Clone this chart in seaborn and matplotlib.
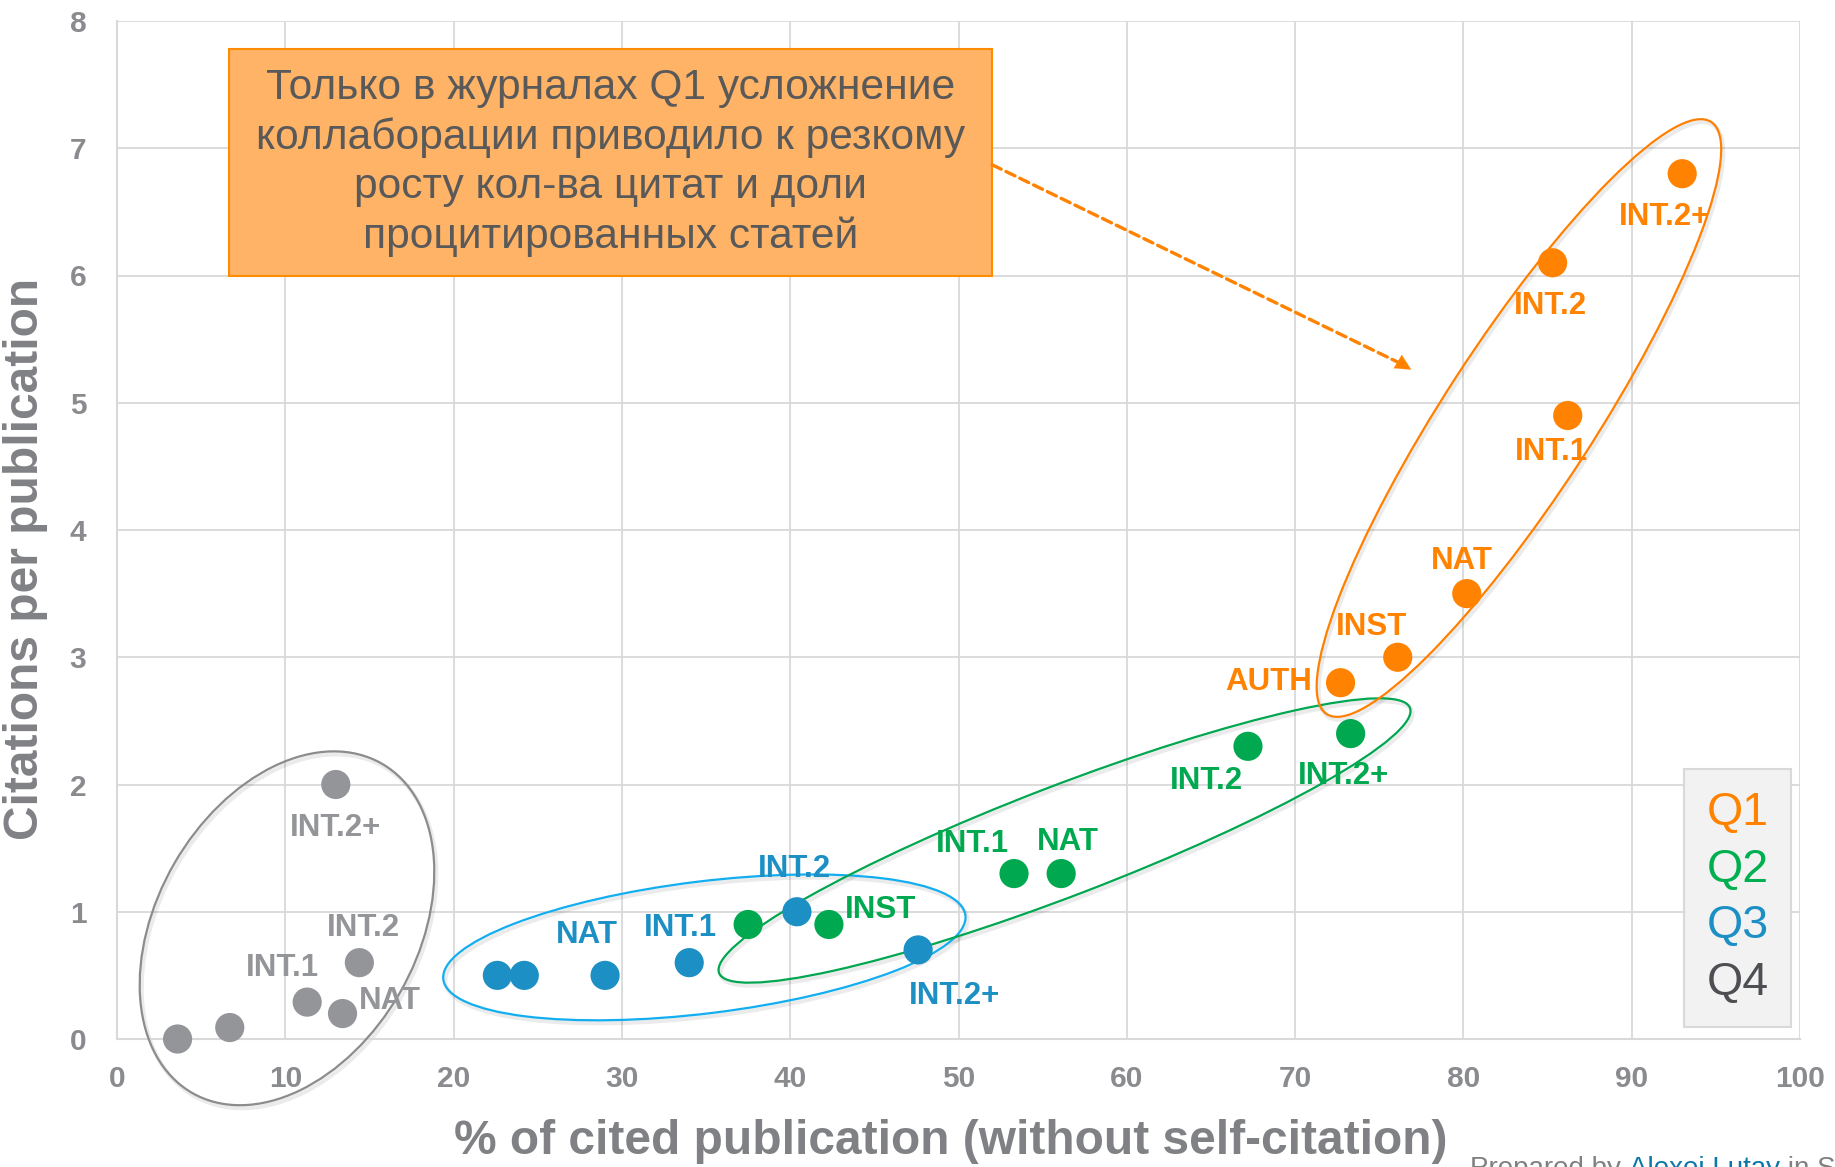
import matplotlib
matplotlib.use("Agg")
import matplotlib.pyplot as plt
import seaborn as sns
import pandas as pd
from matplotlib.patches import Ellipse, Rectangle
from matplotlib.transforms import ScaledTranslation
from matplotlib.lines import Line2D

# ---------------- data ----------------
types = ["AUTH", "INST", "NAT", "INT.1", "INT.2", "INT.2+"]
quartiles = ["Q1", "Q2", "Q3", "Q4"]

q1_x = [72.7, 76.1, 80.2, 86.2, 85.3, 93.0]
q1_y = [2.8, 3.0, 3.5, 4.9, 6.1, 6.8]
q2_x = [37.5, 42.3, 56.1, 53.3, 67.2, 73.3]
q2_y = [0.9, 0.9, 1.3, 1.3, 2.3, 2.4]
q3_x = [22.6, 24.2, 29.0, 34.0, 40.4, 47.6]
q3_y = [0.5, 0.5, 0.5, 0.6, 1.0, 0.7]
q4_x = [3.6, 6.7, 13.4, 11.3, 14.4, 13.0]
q4_y = [0.0, 0.09, 0.2, 0.29, 0.6, 2.0]

q1_labels = ["AUTH", "INST", "NAT", "INT.1", "INT.2", "INT.2+"]
q2_labels = ["", "INST", "NAT", "INT.1", "INT.2", "INT.2+"]
q3_labels = ["", "", "NAT", "INT.1", "INT.2", "INT.2+"]
q4_labels = ["", "", "NAT", "INT.1", "INT.2", "INT.2+"]

x_ticks = [0, 10, 20, 30, 40, 50, 60, 70, 80, 90, 100]
y_ticks = [0, 1, 2, 3, 4, 5, 6, 7, 8]

note_text = ("Только в журналах Q1 усложнение\n"
             "коллаборации приводило к резкому\n"
             "росту кол-ва цитат и доли\n"
             "процитированных статей")

# ---------------- styles ----------------
colors = {"Q1": "#FF8200", "Q2": "#00A94F", "Q3": "#1C90C4", "Q4": "#939598"}
legend_colors = {"Q1": "#FF8200", "Q2": "#00B050", "Q3": "#1C90C4", "Q4": "#4D4F53"}
ellipse_colors = {"Q1": "#FF7F00", "Q2": "#00A650", "Q3": "#12AEEF", "Q4": "#8C8C8C"}

# label offsets in pixels (dx, dy)
offsets = {
    "Q1": [(-72, 1), (-26, 30), (-5, 33), (-16, -37), (-2, -43), (-18, -43)],
    "Q2": [(0, 0), (52, 14), (7, 32), (-42, 30), (-42, -35), (-7, -42)],
    "Q3": [(0, 0), (0, 0), (-18, 40), (-9, 35), (-2, 43), (36, -46)],
    "Q4": [(0, 0), (0, 0), (47, 13), (-25, 34), (4, 35), (0, -43)],
}
# ellipses: center in data coords, semi-axes in pixels, angle in degrees
ellipses = {
    "Q4": ((10.1, 0.87), 190, 130, 60),
    "Q3": ((34.9, 0.72), 263, 66, 7),
    "Q2": ((56.3, 1.56), 370, 55, 21),
    "Q1": ((83.3, 4.88), 353, 75, 57),
}

xs = {"Q1": q1_x, "Q2": q2_x, "Q3": q3_x, "Q4": q4_x}
ys = {"Q1": q1_y, "Q2": q2_y, "Q3": q3_y, "Q4": q4_y}
labs = {"Q1": q1_labels, "Q2": q2_labels, "Q3": q3_labels, "Q4": q4_labels}

rows = []
for q in quartiles:
    for t, x, y, l in zip(types, xs[q], ys[q], labs[q]):
        rows.append({"quartile": q, "type": t, "x": x, "y": y, "label": l})
df = pd.DataFrame(rows)

sns.set_theme(style="white")
plt.rcParams["font.family"] = ["Liberation Sans", "DejaVu Sans"]

DPI = 100
fig = plt.figure(figsize=(18.35, 11.67), dpi=DPI)
fig.patch.set_facecolor("white")
ax = fig.add_axes([117 / 1835, 1 - 1039 / 1167, (1800 - 117) / 1835, (1039 - 21) / 1167])
ax.set_xlim(0, 100)
ax.set_ylim(0, 8)

tick_col = "#8A8B8F"
lab_col = "#808184"

# ellipses
for q in ["Q4", "Q3", "Q2", "Q1"]:
    (cx, cy), a, b, ang = ellipses[q]
    tr_sh = fig.dpi_scale_trans + ScaledTranslation(cx, cy, ax.transData) + \
        ScaledTranslation(2 / DPI, -3 / DPI, fig.dpi_scale_trans)
    sh = Ellipse((0, 0), 2 * a / DPI, 2 * b / DPI, angle=ang, fill=False,
                 edgecolor="#000000", alpha=0.08, lw=3, transform=tr_sh, zorder=2,
                 clip_on=False)
    ax.add_patch(sh)
    tr = fig.dpi_scale_trans + ScaledTranslation(cx, cy, ax.transData)
    e = Ellipse((0, 0), 2 * a / DPI, 2 * b / DPI, angle=ang, fill=False,
                edgecolor=ellipse_colors[q], lw=1.6, transform=tr, zorder=3,
                clip_on=False)
    ax.add_patch(e)

sns.scatterplot(data=df, x="x", y="y", hue="quartile", palette=colors,
                s=441, linewidth=0, legend=False, ax=ax, zorder=5, clip_on=False)

for q in quartiles:
    sub = df[df.quartile == q].reset_index(drop=True)
    for i, r in sub.iterrows():
        if r["label"]:
            dx, dy = offsets[q][i]
            ax.annotate(r["label"], (r["x"], r["y"]), xytext=(dx, dy),
                        textcoords="offset pixels", ha="center", va="center",
                        fontsize=22.5, fontweight="bold", color=colors[q], zorder=6)

# axes styling
ax.set_xticks(x_ticks)
ax.set_yticks(y_ticks)
ax.grid(True, color="#D9D9D9", lw=1.3)
ax.set_axisbelow(True)
for s in ["top", "right"]:
    ax.spines[s].set_visible(False)
for s in ["left", "bottom"]:
    ax.spines[s].set_color("#D9D9D9")
    ax.spines[s].set_linewidth(1.5)
ax.tick_params(axis="x", length=0, pad=19, labelsize=21.5, labelcolor=tick_col)
ax.tick_params(axis="y", length=0, pad=22, labelsize=21.5, labelcolor=tick_col)
for lbl in ax.get_xticklabels() + ax.get_yticklabels():
    lbl.set_fontweight("bold")

ax.set_xlabel("% of cited publication (without self-citation)", fontsize=34.5,
              fontweight="bold", color=lab_col)
ax.xaxis.set_label_coords((951 - 117) / 1683, -(1141 - 1039) / 1018)
ax.xaxis.label.set_verticalalignment("center")
ax.set_ylabel("Citations per publication", fontsize=34.5, fontweight="bold", color=lab_col)
ax.yaxis.set_label_coords((26 - 117) / 1683, (1039 - 559) / 1018)
ax.yaxis.label.set_verticalalignment("center")

# note box
ax.add_patch(Rectangle((6.65, 6.0), 45.35, 1.78, facecolor="#FFB366",
                       edgecolor="#FF8C00", lw=1.5, zorder=7))
ax.text(29.35, 6.89, note_text, ha="center", va="center", fontsize=30.6,
        color="#595959", linespacing=1.3, zorder=8)

# dashed arrow
ax.annotate("", xy=(76.4, 5.30), xytext=(52.0, 6.87),
            arrowprops=dict(arrowstyle="-", linestyle=(0, (3, 1.6)), color="#FF8200",
                            lw=2.4, shrinkA=0, shrinkB=0), zorder=7)
ax.annotate("", xy=(76.9, 5.26), xytext=(75.9, 5.34),
            arrowprops=dict(arrowstyle="-|>", color="#FF8200", lw=0.1,
                            mutation_scale=28, shrinkA=0, shrinkB=0), zorder=7)

# legend
handles = [Line2D([], [], linestyle="none") for _ in quartiles]
leg = ax.legend(handles, quartiles, handlelength=0, handletextpad=0,
                labelcolor=[legend_colors[q] for q in quartiles], fontsize=33.5,
                frameon=True, fancybox=False, facecolor="#F2F2F2", edgecolor="#D9D9D9",
                loc="lower right", bbox_to_anchor=(1791 / 1835, 1 - 1027 / 1167),
                bbox_transform=fig.transFigure, borderaxespad=0, labelspacing=0.27,
                borderpad=0.48, framealpha=1)
leg.get_frame().set_linewidth(1.5)
leg.set_zorder(9)

# footnote (clipped at the bottom edge, as in the original)
y_foot = 1 - 1156 / 1167
t1 = fig.text(1470 / 1835, y_foot, "Prepared by ", fontsize=20, color="#808080",
              ha="left", va="top")
fig.canvas.draw()
bb = t1.get_window_extent()
t2 = fig.text(bb.x1 / 1835, y_foot, "Alexei Lutay", fontsize=20, color="#0B78A8",
              ha="left", va="top")
fig.canvas.draw()
bb2 = t2.get_window_extent()
fig.text(bb2.x1 / 1835, y_foot, " in SciVal", fontsize=20, color="#808080",
         ha="left", va="top")

fig.savefig("out.png", dpi=DPI)
